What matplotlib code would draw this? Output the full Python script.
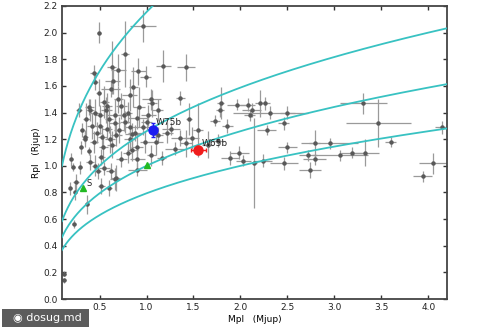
import numpy as np
import matplotlib
matplotlib.use("Agg")
import matplotlib.pyplot as plt

# Transiting planets: mass (Mjup), radius (Rjup) and their 1-sigma errors
mass = [0.49, 0.96, 0.77, 1.18, 1.42, 1.36, 0.44, 0.45, 0.63, 0.70, 0.91, 0.99,
        0.64, 0.62, 0.49, 0.82, 1.05, 0.86, 0.39, 0.45, 0.50, 0.57, 0.66, 0.92,
        0.90, 1.06, 1.12, 1.22, 0.96, 0.82, 0.77, 0.66, 0.58, 0.50, 0.47, 0.31,
        0.30, 0.39, 0.54, 0.61, 0.68, 0.82, 0.90, 0.98, 1.12, 1.26, 1.55, 1.78,
        1.73, 1.86, 1.45, 0.36, 0.42, 0.55, 0.73, 0.80, 0.60, 0.70, 0.40, 0.28,
        0.22, 0.20, 0.40, 0.48, 0.55, 0.62, 0.66, 0.90, 0.73, 0.80, 0.52, 0.90,
        1.05, 1.16, 1.30, 1.42, 0.19, 0.24, 0.25, 0.37, 0.52, 0.60, 0.67, 0.23,
        0.12, 0.12, 0.29, 0.45, 1.79, 1.96, 2.08, 2.10, 2.21, 2.15, 1.99, 2.03,
        1.89, 1.76, 2.26, 2.32, 2.50, 2.46, 2.28, 2.50, 2.95, 2.79, 2.72, 2.79,
        3.06, 3.19, 3.33, 2.46, 2.74, 2.24, 3.31, 3.47, 3.60, 4.05, 3.94, 4.15,
        2.12, 1.36, 1.48, 1.65, 0.35, 0.85, 1.00, 1.10,
        0.53, 0.71, 0.88, 0.44, 0.63, 0.76, 1.02, 0.58, 0.34, 0.85]
radius = [2.00, 2.05, 1.84, 1.75, 1.74, 1.51, 1.70, 1.63, 1.74, 1.72, 1.71, 1.67,
          1.64, 1.58, 1.55, 1.53, 1.50, 1.59, 1.44, 1.40, 1.38, 1.42, 1.38, 1.44,
          1.36, 1.47, 1.42, 1.25, 1.29, 1.29, 1.33, 1.32, 1.28, 1.30, 1.25, 1.27,
          1.14, 1.11, 1.14, 1.20, 1.23, 1.20, 1.14, 1.18, 1.23, 1.28, 1.27, 1.42,
          1.34, 1.30, 1.35, 1.35, 1.30, 1.48, 1.45, 1.40, 1.35, 1.50, 1.42, 1.42,
          0.99, 1.05, 1.03, 0.96, 0.98, 0.96, 0.90, 0.97, 1.05, 1.10, 1.07, 1.05,
          1.08, 1.06, 1.13, 1.17, 0.83, 0.80, 0.88, 0.71, 0.85, 0.83, 0.91, 0.56,
          0.19, 0.14, 0.99, 1.00, 1.47, 1.46, 1.46, 1.38, 1.47, 1.02, 1.10, 1.04,
          1.06, 1.19, 1.47, 1.40, 1.40, 1.32, 1.27, 1.14, 1.17, 1.17, 1.08, 1.05,
          1.08, 1.10, 1.10, 1.02, 0.97, 1.04, 1.47, 1.32, 1.18, 1.02, 0.92, 1.29,
          1.42, 1.21, 1.21, 1.16, 1.22, 1.24, 1.33, 1.18,
          1.22, 1.27, 1.25, 1.18, 1.16, 1.38, 1.38, 1.45, 1.20, 1.12]
mass_err = [0.02, 0.14, 0.04, 0.08, 0.10, 0.05, 0.04, 0.03, 0.05, 0.08, 0.08, 0.06,
            0.08, 0.10, 0.03, 0.08, 0.10, 0.05, 0.05, 0.06, 0.05, 0.06, 0.08, 0.06,
            0.10, 0.05, 0.06, 0.06, 0.08, 0.06, 0.05, 0.06, 0.05, 0.04, 0.05, 0.02,
            0.02, 0.02, 0.05, 0.05, 0.06, 0.06, 0.06, 0.05, 0.06, 0.10, 0.05, 0.04,
            0.05, 0.06, 0.03, 0.04, 0.05, 0.05, 0.06, 0.05, 0.04, 0.05, 0.04, 0.03,
            0.02, 0.02, 0.04, 0.04, 0.06, 0.05, 0.05, 0.10, 0.06, 0.05, 0.04, 0.08,
            0.05, 0.05, 0.10, 0.06, 0.02, 0.02, 0.03, 0.02, 0.04, 0.03, 0.05, 0.02,
            0.02, 0.02, 0.02, 0.03, 0.04, 0.10, 0.08, 0.06, 0.05, 0.03, 0.10, 0.08,
            0.10, 0.06, 0.06, 0.40, 0.08, 0.06, 0.10, 0.10, 0.30, 0.06, 0.10, 0.12,
            0.30, 0.12, 0.15, 0.15, 0.12, 0.10, 0.25, 0.35, 0.06, 0.15, 0.10, 0.08,
            0.10, 0.10, 0.08, 0.06, 0.03, 0.08, 0.06, 0.08,
            0.05, 0.06, 0.08, 0.04, 0.05, 0.06, 0.08, 0.05, 0.03, 0.06]
radius_err = [0.08, 0.12, 0.25, 0.12, 0.10, 0.05, 0.06, 0.06, 0.20, 0.12, 0.10, 0.08,
              0.10, 0.06, 0.10, 0.12, 0.08, 0.15, 0.06, 0.10, 0.08, 0.10, 0.12, 0.15,
              0.08, 0.10, 0.08, 0.08, 0.06, 0.10, 0.08, 0.10, 0.08, 0.06, 0.08, 0.05,
              0.05, 0.03, 0.10, 0.10, 0.08, 0.08, 0.10, 0.08, 0.06, 0.05, 0.20, 0.05,
              0.04, 0.05, 0.12, 0.12, 0.10, 0.12, 0.10, 0.08, 0.10, 0.10, 0.08, 0.05,
              0.03, 0.05, 0.06, 0.06, 0.05, 0.06, 0.08, 0.05, 0.06, 0.08, 0.06, 0.10,
              0.08, 0.05, 0.05, 0.10, 0.05, 0.06, 0.06, 0.07, 0.06, 0.06, 0.10, 0.03,
              0.02, 0.02, 0.05, 0.08, 0.12, 0.04, 0.05, 0.04, 0.10, 0.34, 0.05, 0.04,
              0.05, 0.05, 0.05, 0.05, 0.05, 0.05, 0.04, 0.04, 0.04, 0.10, 0.04, 0.04,
              0.04, 0.04, 0.10, 0.05, 0.06, 0.05, 0.08, 0.18, 0.04, 0.08, 0.04, 0.05,
              0.05, 0.06, 0.08, 0.10, 0.05, 0.08, 0.06, 0.10,
              0.08, 0.10, 0.06, 0.08, 0.10, 0.12, 0.08, 0.10, 0.06, 0.08]

# Highlighted systems
w75_mass, w75_radius, w75_merr, w75_rerr = 1.07, 1.27, 0.03, 0.05
w65_mass, w65_radius, w65_merr, w65_rerr = 1.55, 1.12, 0.08, 0.03
green_mass = [0.32, 1.01]
green_radius = [0.83, 1.01]

# Iso-density curves (in units of Jupiter density)
densities = [0.1, 0.5, 1.0, 2.0]

fig = plt.figure(figsize=(5.0, 3.33), dpi=100)
ax = fig.add_axes([0.124, 0.102, 0.77, 0.88])

ax.errorbar(mass, radius, xerr=mass_err, yerr=radius_err, fmt="o", ms=2.2,
            color="#595959", ecolor="#9a9a9a", elinewidth=0.9, capsize=0,
            zorder=2)

m_grid = np.linspace(0.1, 4.2, 400)
for rho in densities:
    ax.plot(m_grid, (m_grid / rho) ** (1.0 / 3.0), color="#38c2c2", lw=1.3,
            zorder=3)

ax.errorbar([w75_mass], [w75_radius], xerr=[w75_merr], yerr=[w75_rerr],
            fmt="o", ms=6.5, color="#1c1cf0", ecolor="#1c1cf0", elinewidth=1,
            capsize=1.5, zorder=4)
ax.errorbar([w65_mass], [w65_radius], xerr=[w65_merr], yerr=[w65_rerr],
            fmt="o", ms=6.5, color="#f01c1c", ecolor="#f01c1c", elinewidth=1,
            capsize=1.5, zorder=4)
ax.plot(green_mass, green_radius, "^", ms=5, color="#22b922", zorder=4)

ax.text(w75_mass + 0.03, w75_radius + 0.04, "W75b", fontsize=6.5,
        color="#222222", zorder=5)
ax.text(w65_mass + 0.04, w65_radius + 0.03, "W65b", fontsize=6.5,
        color="#222222", zorder=5)
ax.text(green_mass[0] + 0.04, green_radius[0] + 0.02, "S", fontsize=6,
        color="#222222", zorder=5)

ax.set_xlim(0.1, 4.2)
ax.set_ylim(0.0, 2.2)
ax.set_xticks([0.5, 1.0, 1.5, 2.0, 2.5, 3.0, 3.5, 4.0])
ax.set_yticks(np.round(np.arange(0.0, 2.21, 0.2), 1))
ax.tick_params(direction="in", top=True, right=True, labelsize=6.5,
               length=3, width=1, color="#333333", pad=3, labelcolor="#222222")
for s in ax.spines.values():
    s.set_color("#444444")
    s.set_linewidth(1.3)

ax.set_xlabel("Mpl   (Mjup)", fontsize=6.5, labelpad=2)
ax.set_ylabel("Rpl   (Rjup)", fontsize=6.5, labelpad=2)

# Site badge in the lower-left corner
fig.text(0.012, 0.045, "  \u25C9 dosug.md ", fontsize=8, color="white",
         va="center", ha="left",
         bbox=dict(boxstyle="square,pad=0.35", fc="#4a4a4a", ec="none",
                   alpha=0.9))

fig.savefig("out.png", dpi=100)
